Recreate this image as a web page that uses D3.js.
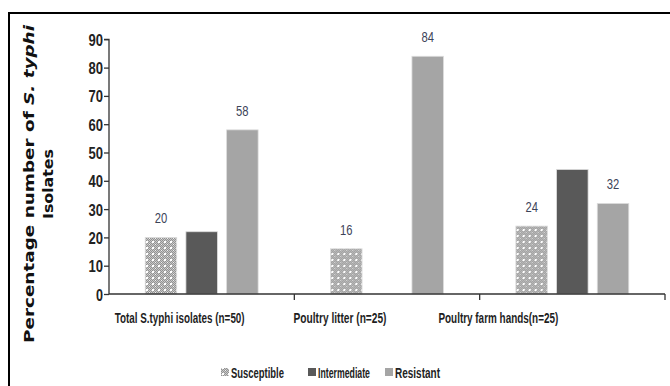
<!DOCTYPE html>
<html>
<head>
<meta charset="utf-8">
<script src="https://cdn.jsdelivr.net/npm/d3@7"></script>
<style>
  html, body { margin: 0; padding: 0; background: #fff; }
  svg { display: block; }
</style>
</head>
<body>
<svg id="chart" width="670" height="386"></svg>
<script>
// Groups, series and the percentages plotted for each
const categories = ["Total S.typhi isolates (n=50)", "Poultry litter (n=25)", "Poultry farm hands(n=25)"];
const seriesNames = ["Susceptible", "Intermediate", "Resistant"];
const susceptible = [20, 16, 24];
const intermediate = [22, 0, 44];
const resistant = [58, 84, 32];
const yTicks = [0, 10, 20, 30, 40, 50, 60, 70, 80, 90];
// only these series carry value labels
const labelledSeries = ["Susceptible", "Resistant"];

const values = { Susceptible: susceptible, Intermediate: intermediate, Resistant: resistant };

const FONT = "'Liberation Sans', Arial, sans-serif";
const svg = d3.select("#chart");
const textColor = "#3c4358";

// Place a text at (x, y) and squeeze it horizontally to a given width
function condense(sel, xFn, yFn, widthFn) {
  sel.each(function (d, i) {
    const t = d3.select(this);
    const natural = this.getComputedTextLength();
    const s = widthFn(d, i) / natural;
    t.attr("x", 0).attr("y", 0)
      .attr("transform", `translate(${xFn(d, i)},${yFn(d, i)}) scale(${s},1)`);
  });
}

// pattern used for the "Susceptible" bars: fine grey check with white dots
const defs = svg.append("defs");
const pat = defs.append("pattern")
  .attr("id", "dots").attr("patternUnits", "userSpaceOnUse")
  .attr("width", 6).attr("height", 6);
pat.append("rect").attr("width", 6).attr("height", 6).attr("fill", "#929292");
for (let i = 0; i < 6; i++) for (let j = 0; j < 6; j++) {
  if ((i + j) % 2 === 0) pat.append("rect").attr("x", i).attr("y", j).attr("width", 1).attr("height", 1).attr("fill", "#c8c8c8");
}
pat.append("rect").attr("x", 1).attr("y", 1).attr("width", 2).attr("height", 2).attr("fill", "#ffffff");
pat.append("rect").attr("x", 4).attr("y", 4).attr("width", 1).attr("height", 1).attr("fill", "#f0f0f0");

const fills = { Susceptible: "url(#dots)", Intermediate: "#595959", Resistant: "#a5a5a5" };

// frame lines along top and left
svg.append("line").attr("x1", 8).attr("x2", 670).attr("y1", 13).attr("y2", 13).attr("stroke", "#000").attr("stroke-width", 2);
svg.append("line").attr("x1", 9).attr("x2", 9).attr("y1", 12).attr("y2", 386).attr("stroke", "#000").attr("stroke-width", 2);

// scales
const x0 = d3.scaleBand().domain(categories).range([109, 665]).padding(0);
const x1 = d3.scaleBand().domain(seriesNames).range([0, x0.bandwidth()])
  .paddingInner(0.226).paddingOuter(0.89);
const y = d3.scaleLinear().domain([0, 90]).range([294, 39.3]);

// bars
const groups = svg.append("g").selectAll("g")
  .data(categories).join("g")
  .attr("transform", d => `translate(${x0(d)},0)`);

groups.selectAll("rect")
  .data((c, i) => seriesNames.map(s => ({ s, v: values[s][i] })))
  .join("rect")
  .attr("x", d => x1(d.s))
  .attr("width", x1.bandwidth())
  .attr("y", d => y(d.v))
  .attr("height", d => y(0) - y(d.v))
  .attr("fill", d => fills[d.s])
  .attr("stroke", d => d.v > 0 ? "#dcdcdc" : "none")
  .attr("stroke-width", 0.8);

// value labels above bars
groups.selectAll("text.val")
  .data((c, i) => seriesNames.filter(s => labelledSeries.includes(s)).map(s => ({ s, v: values[s][i] })))
  .join("text")
  .attr("class", "val")
  .attr("text-anchor", "middle")
  .attr("font-family", FONT)
  .attr("font-size", 14)
  .attr("fill", textColor)
  .text(d => d.v)
  .call(condense, d => x1(d.s) + x1.bandwidth() / 2, d => y(d.v) - 14, () => 12.5);

// y axis
const yAxis = svg.append("g")
  .attr("transform", "translate(109,0)")
  .call(d3.axisLeft(y).tickValues(yTicks).tickSize(5).tickPadding(3).tickFormat(d3.format("d")));
yAxis.select(".domain").attr("stroke", "#333").attr("stroke-width", 1.3).attr("d", `M-5,${y(90)}H0V${y(0)}`);
yAxis.selectAll(".tick line").attr("stroke", "#333").attr("stroke-width", 1.3);
yAxis.selectAll(".tick text")
  .attr("font-family", FONT)
  .attr("font-size", 16).attr("font-weight", "bold").attr("fill", "#222")
  .attr("dy", null)
  .attr("dominant-baseline", null)
  .call(condense, () => -6, () => 6, d => d === 0 ? 7 : 14.5);

// x axis line with ticks between categories
const xAxisG = svg.append("g");
xAxisG.append("line").attr("x1", 109).attr("x2", 665).attr("y1", y(0)).attr("y2", y(0))
  .attr("stroke", "#333").attr("stroke-width", 1.3);
xAxisG.selectAll("line.tk")
  .data(categories.slice(1).map(c => x0(c)).concat([x0(categories[2]) + x0.bandwidth()]))
  .join("line").attr("class", "tk")
  .attr("x1", d => d).attr("x2", d => d)
  .attr("y1", y(0)).attr("y2", y(0) + 6)
  .attr("stroke", "#333").attr("stroke-width", 1.3);

// category labels
const catShift = [-22, -47, -74];
const catWidth = [130, 93, 120];
svg.append("g").selectAll("text")
  .data(categories).join("text")
  .attr("text-anchor", "middle")
  .attr("font-family", FONT)
  .attr("font-size", 15.5)
  .attr("font-weight", "bold")
  .attr("fill", "#1e1e1e")
  .text(d => d)
  .call(condense, (d, i) => x0(d) + x0.bandwidth() / 2 + catShift[i], () => 323, (d, i) => catWidth[i]);

// y axis title
const title = svg.append("text")
  .attr("transform", "translate(34,184) rotate(-90)")
  .attr("text-anchor", "middle")
  .attr("font-family", "'DejaVu Sans', Verdana, sans-serif")
  .attr("font-weight", "bold")
  .attr("font-size", 14.5)
  .attr("fill", "#111");
title.append("tspan").attr("x", 0).attr("y", 0)
  .attr("textLength", 318).attr("lengthAdjust", "spacingAndGlyphs")
  .text("Percentage number of ")
  .append("tspan").attr("font-style", "italic").text("S. typhi");
title.append("tspan").attr("x", 0).attr("y", 19)
  .attr("textLength", 70).attr("lengthAdjust", "spacingAndGlyphs")
  .text("Isolates");

// legend
const legendX = [221, 308, 385];
const legendW = [53, 52, 45];
const leg = svg.append("g").selectAll("g").data(seriesNames).join("g")
  .attr("transform", (d, i) => `translate(${legendX[i]},366)`);
leg.append("rect").attr("width", 8).attr("height", 8).attr("y", 2)
  .attr("fill", d => fills[d]);
leg.append("text")
  .attr("font-family", FONT)
  .attr("font-size", 15).attr("font-weight", "bold")
  .attr("fill", "#222")
  .text(d => d)
  .call(condense, () => 10, () => 11.5, (d, i) => legendW[i]);
</script>
</body>
</html>
